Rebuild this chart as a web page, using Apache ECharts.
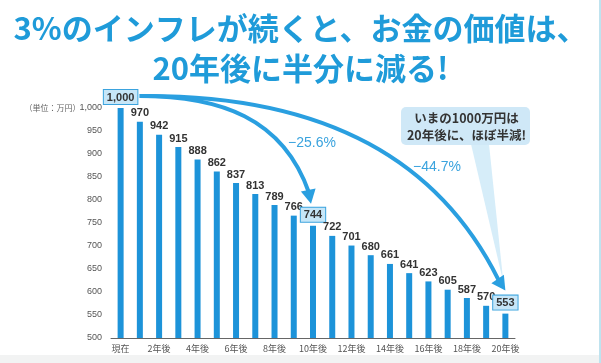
<!DOCTYPE html>
<html><head><meta charset="utf-8">
<script src="https://cdn.jsdelivr.net/npm/echarts@6/dist/echarts.min.js"></script>
<style>html,body{margin:0;padding:0;background:#fff}#c{width:601px;height:363px}</style>
</head><body><div id="c"></div>
<script>
const categories = ['現在','1年後','2年後','3年後','4年後','5年後','6年後','7年後','8年後','9年後','10年後','11年後','12年後','13年後','14年後','15年後','16年後','17年後','18年後','19年後','20年後'];
const values = [1000,970,942,915,888,862,837,813,789,766,744,722,701,680,661,641,623,605,587,570,553];
const yTicks = {min:500, max:1000, interval:50};
const boxed = [0,10,20];
const titleLines = ['3%のインフレが続くと、お金の価値は、','20年後に半分に減る!'];
const pctLabels = ['−25.6%','−44.7%'];
const calloutLines = ['いまの1000万円は','20年後に、ほぼ半減!'];
const unitLabel = '（単位：万円）';

const BLUE = '#1d93d9';
const chart = echarts.init(document.getElementById('c'), null, {renderer:'canvas'});
const fmt = v => v >= 1000 ? v.toLocaleString('en-US') : String(v);

const data = values.map((v,i) => {
  const o = {value:v};
  if (boxed.includes(i)) {
    o.label = {backgroundColor:'#c6e6f8', borderColor:'#3ba3de', borderWidth:1, padding:[2,3,1,3], distance:4};
  }
  return o;
});

chart.setOption({
  animation:false,
  backgroundColor:'#fff',
  title:[
    {text:titleLines[0], left:'center', top:8, textStyle:{fontFamily:'Noto Sans CJK JP', fontWeight:'bold', fontSize:31, color:'#1f9bd9'}},
    {text:titleLines[1], left:'center', top:48, textStyle:{fontFamily:'Noto Sans CJK JP', fontWeight:'bold', fontSize:31, color:'#1f9bd9'}}
  ],
  grid:{left:111, right:86, top:108, bottom:25, containLabel:false},
  xAxis:{type:'category', data:categories, boundaryGap:true,
    axisLine:{lineStyle:{color:'#666', width:1}}, axisTick:{show:false},
    axisLabel:{interval:1, color:'#555', fontSize:9, fontFamily:'Noto Sans CJK JP', margin:6}},
  yAxis:{type:'value', min:yTicks.min, max:yTicks.max, interval:yTicks.interval,
    axisLine:{show:false}, axisTick:{show:false}, splitLine:{show:false},
    axisLabel:{color:'#555', fontSize:9, fontFamily:'Liberation Sans', margin:9, formatter:fmt}},
  series:[{type:'bar', data:data, barWidth:6, itemStyle:{color:BLUE},
    label:{show:true, position:'top', distance:3, color:'#333', fontWeight:'bold', fontSize:11, fontFamily:'Liberation Sans', formatter:p=>fmt(p.value)}}]
});

function px(i,v){return chart.convertToPixel({xAxisIndex:0,yAxisIndex:0},[i,v]);}
const a = px(0, values[0]);
const b = px(10, values[10]);
const c = px(20, values[20]);

function arrowHead(tip, from, len, half){
  const dx = tip[0]-from[0], dy = tip[1]-from[1];
  const L = Math.hypot(dx,dy); const ux=dx/L, uy=dy/L;
  const bx = tip[0]-ux*len, by = tip[1]-uy*len;
  return [[tip[0],tip[1]],[bx-uy*half, by+ux*half],[bx+uy*half, by-ux*half]];
}
const start = [a[0]+19, a[1]-12];
const tip1 = [b[0]-2, b[1]-22];
const tip2 = [c[0], c[1]-23];
const end1 = [tip1[0]-2, tip1[1]-11];
const end2 = [tip2[0]-7, tip2[1]-11];
const cp1a=[start[0]+80,start[1]], cp1b=[end1[0]-26,end1[1]-75];
const cp2a=[start[0]+190,start[1]-2], cp2b=[tip2[0]-65,tip2[1]-127];
const lineStyle = {stroke:'#2a9fe0', lineWidth:4, fill:null};

const calloutX = 401, calloutY = 107, calloutW = 129, calloutH = 38;

chart.setOption({graphic:[
  {type:'rect', shape:{x:0,y:355,width:601,height:8}, style:{fill:'#f2f3f3'}, silent:true},
  {type:'rect', shape:{x:599,y:0,width:2,height:363}, style:{fill:'#bfe3ef'}, silent:true},
  {type:'text', x:a[0]-96, y:a[1], style:{text:unitLabel, fontSize:8, fill:'#666', fontFamily:'Noto Sans CJK JP', verticalAlign:'middle'}},
  {type:'polygon', shape:{points:[[calloutX+70,calloutY+calloutH-1],[calloutX+88,calloutY+calloutH-1],[tip2[0]-2,tip2[1]-8]]}, style:{fill:'#d6edf9'}},
  {type:'rect', shape:{x:calloutX,y:calloutY,width:calloutW,height:calloutH,r:5}, style:{fill:'#cfe8f7'}},
  {type:'text', x:calloutX+calloutW/2+1, y:calloutY+calloutH/2+1, style:{text:calloutLines.join('\n'), align:'center', verticalAlign:'middle', fontSize:12.5, lineHeight:17, fontWeight:'bold', fill:'#333', fontFamily:'Noto Sans CJK JP'}},
  {type:'bezierCurve', shape:{x1:start[0],y1:start[1],cpx1:cp1a[0],cpy1:cp1a[1],cpx2:cp1b[0],cpy2:cp1b[1],x2:end1[0],y2:end1[1]}, style:lineStyle},
  {type:'polygon', shape:{points:arrowHead(tip1,[tip1[0]-4,tip1[1]-20],14,7.5)}, style:{fill:'#2a9fe0'}},
  {type:'bezierCurve', shape:{x1:start[0],y1:start[1],cpx1:cp2a[0],cpy1:cp2a[1],cpx2:cp2b[0],cpy2:cp2b[1],x2:end2[0],y2:end2[1]}, style:lineStyle},
  {type:'polygon', shape:{points:arrowHead(tip2,[tip2[0]-12,tip2[1]-18],14,7.5)}, style:{fill:'#2a9fe0'}},
  {type:'text', x:312, y:143, style:{text:pctLabels[0], align:'center', verticalAlign:'middle', fontSize:14, fill:'#3aa3de', fontFamily:'Liberation Sans'}},
  {type:'text', x:437, y:167, style:{text:pctLabels[1], align:'center', verticalAlign:'middle', fontSize:14, fill:'#3aa3de', fontFamily:'Liberation Sans'}}
]});
</script></body></html>
